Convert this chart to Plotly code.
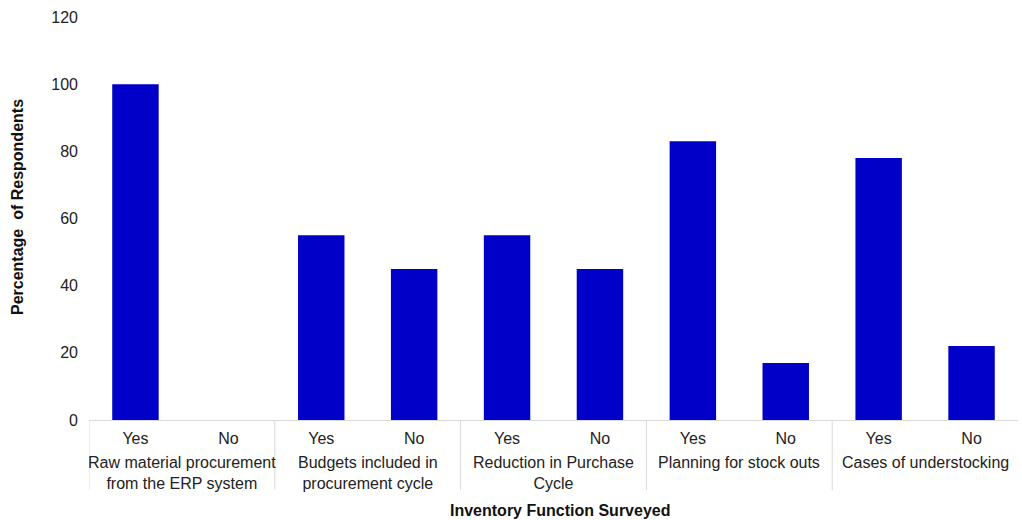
import plotly.graph_objects as go

# Survey results: share of respondents answering Yes / No per inventory function
groups = [
    "Raw material procurement<br>from the ERP system",
    "Budgets included in<br>procurement cycle",
    "Reduction in Purchase<br>Cycle",
    "Planning for stock outs",
    "Cases of understocking",
]
answers = ["Yes", "No"]
yes_values = [100, 55, 55, 83, 78]
no_values = [0, 45, 45, 17, 22]

# Flatten into one bar per (group, answer) pair
positions = []
values = []
tick_text = []
for gi in range(len(groups)):
    for ai, ans in enumerate(answers):
        positions.append(gi * 2 + ai)
        values.append(yes_values[gi] if ans == "Yes" else no_values[gi])
        tick_text.append(ans)

FONT = "Liberation Sans, Arial, sans-serif"
TXT = "#222222"

L, R, T, B = 89, 4, 17, 100
W, H = 1022, 520
plot_w = W - L - R
plot_h = H - T - B

fig = go.Figure(
    go.Bar(
        x=positions,
        y=values,
        width=0.5,
        marker=dict(color="#0000c8", line=dict(width=0)),
        showlegend=False,
    )
)

# Group labels under the Yes/No ticks
for gi, name in enumerate(groups):
    fig.add_annotation(
        x=gi * 2 + 0.5, xref="x",
        y=-(452 - (H - B)) / plot_h, yref="paper",
        text=name, showarrow=False,
        yanchor="top", xanchor="center",
        font=dict(family=FONT, size=16, color=TXT),
    )

# Vertical separators between groups
for gi in range(len(groups)):
    fig.add_shape(
        type="line", xref="x", yref="paper",
        x0=gi * 2 - 0.5, x1=gi * 2 - 0.5, y0=0, y1=-70 / plot_h,
        line=dict(color="#d9d9d9", width=1),
    )

# Axis titles
fig.add_annotation(
    x=0.5 + (560 - (L + plot_w / 2)) / plot_w, xref="paper",
    y=-(510 - (H - B)) / plot_h, yref="paper",
    text="<b>Inventory Function Surveyed</b>", showarrow=False,
    xanchor="center", yanchor="middle",
    font=dict(family=FONT, size=16, color="#111"),
)
fig.add_annotation(
    x=(17 - L) / plot_w, xref="paper",
    y=((H - B) - 207) / plot_h, yref="paper",
    text="<b>Percentage  of Respondents</b>", showarrow=False,
    textangle=-90, xanchor="center", yanchor="middle",
    font=dict(family=FONT, size=16, color="#111"),
)

fig.update_layout(
    width=W, height=H,
    margin=dict(l=L, r=R, t=T, b=B),
    plot_bgcolor="white", paper_bgcolor="white",
    font=dict(family=FONT, size=16, color=TXT),
    xaxis=dict(
        range=[-0.5, 9.5],
        tickmode="array", tickvals=positions, ticktext=tick_text,
        showline=True, linecolor="#d9d9d9", linewidth=1,
        showgrid=False, zeroline=False, ticks="",
        ticklabelstandoff=4,
        tickfont=dict(family=FONT, size=16, color=TXT),
    ),
    yaxis=dict(
        range=[0, 120], dtick=20,
        showline=False, showgrid=False, zeroline=False, ticks="",
        ticklabelstandoff=10,
        tickfont=dict(family=FONT, size=16, color=TXT),
    ),
)

fig.write_html("out.html")
